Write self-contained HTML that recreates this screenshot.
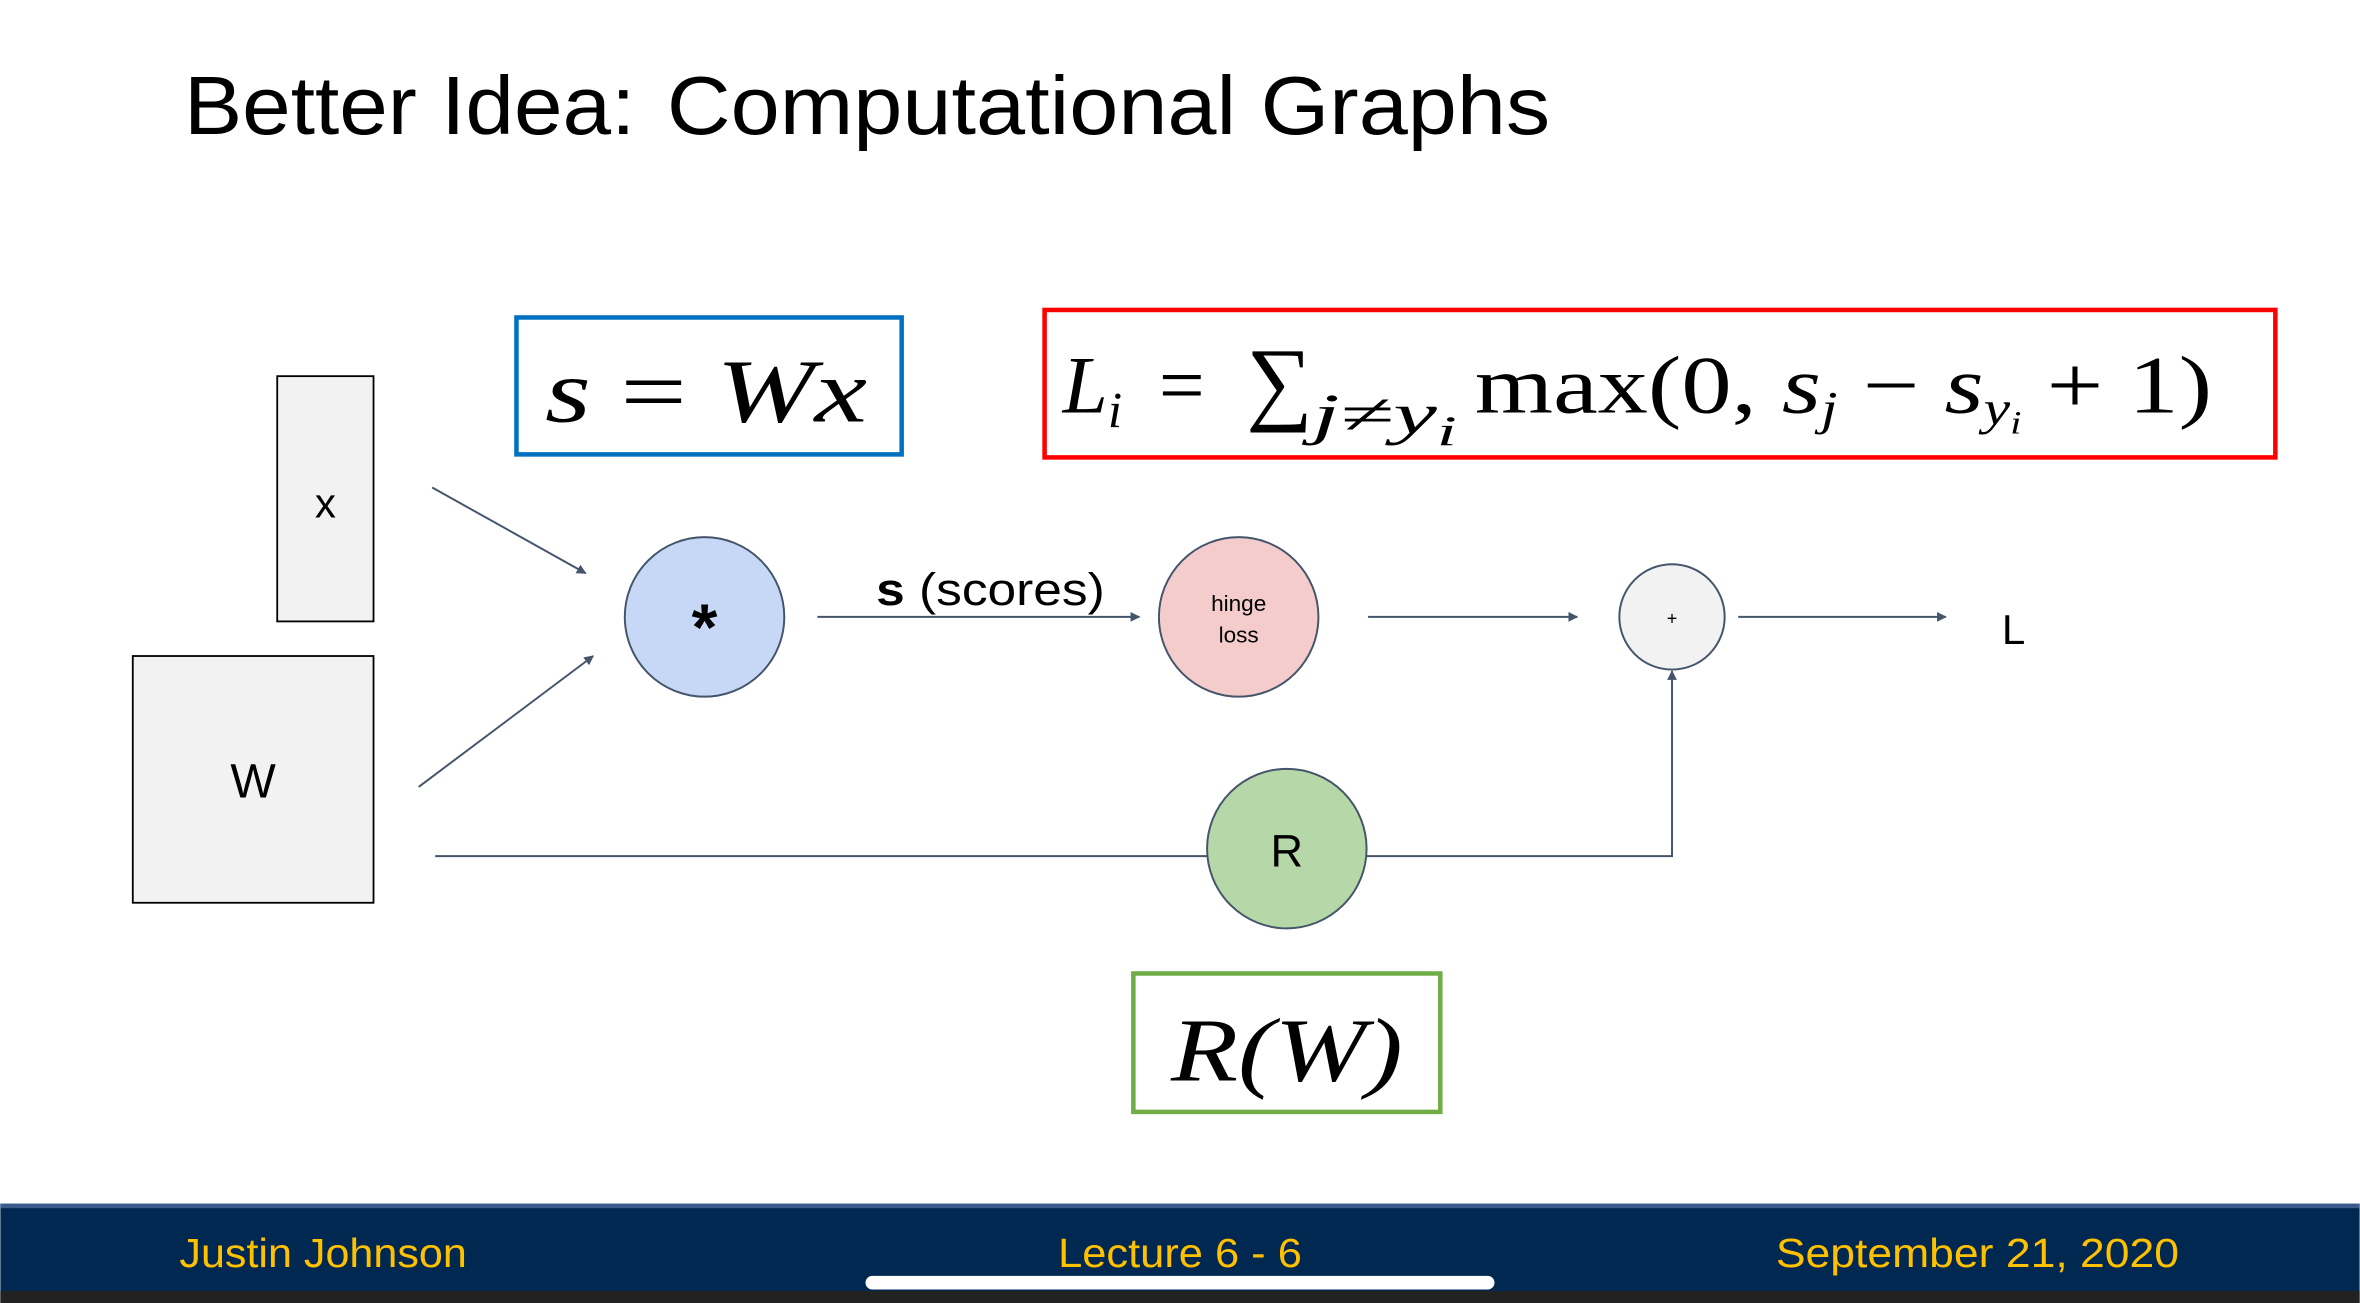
<!DOCTYPE html>
<html><head><meta charset="utf-8"><style>
html,body{margin:0;padding:0;background:#fff;}
svg{display:block;}
</style></head><body>
<svg width="2360" height="1303" viewBox="0 0 1568 866" xmlns="http://www.w3.org/2000/svg">
<defs>
<marker id="a" viewBox="0 0 10 10" refX="9" refY="5" markerWidth="5" markerHeight="5" orient="auto"><path d="M0,0L10,5L0,10z" fill="#44546a"/></marker>
</defs>
<rect width="1568" height="866" fill="#fff"/>
<g font-family="Liberation Sans, sans-serif" fill="#000">
<text x="122" y="89" font-size="55" textLength="300" lengthAdjust="spacingAndGlyphs">Better Idea:</text>
<text x="443" y="89" font-size="55" textLength="587" lengthAdjust="spacingAndGlyphs">Computational Graphs</text>
</g>
<rect x="343" y="211" width="256" height="91" fill="none" stroke="#0070c0" stroke-width="3"/>
<text x="362" y="280" font-family="Liberation Serif, serif" font-style="italic" font-size="60" textLength="214" lengthAdjust="spacingAndGlyphs">s <tspan font-style="normal">=</tspan> Wx</text>
<rect x="694" y="206" width="818" height="98" fill="none" stroke="#ff0000" stroke-width="3"/>
<g font-family="Liberation Serif, serif" font-size="54">
<text x="706" y="274" font-style="italic">L<tspan font-size="34" dy="10">i</tspan></text>
<text x="770" y="274">=</text>
<text x="828" y="274" font-size="62">∑</text>
<text x="872" y="288" font-style="italic" font-size="38" textLength="96" lengthAdjust="spacingAndGlyphs">j≠y<tspan font-size="28" dy="8">i</tspan></text>
<text x="980" y="274" textLength="490" lengthAdjust="spacingAndGlyphs">max(0, <tspan font-style="italic">s</tspan><tspan font-style="italic" font-size="32" dy="8">j</tspan><tspan dy="-8"> − </tspan><tspan font-style="italic">s</tspan><tspan font-style="italic" font-size="32" dy="8">y</tspan><tspan font-style="italic" font-size="22" dy="6">i</tspan><tspan dy="-14"> + 1)</tspan></text>
</g>
<rect x="184" y="250" width="64" height="163" fill="#f2f2f2" stroke="#000" stroke-width="1.2"/>
<text x="216" y="344" font-family="Liberation Sans, sans-serif" font-size="28" text-anchor="middle">x</text>
<rect x="88" y="436" width="160" height="164" fill="#f2f2f2" stroke="#000" stroke-width="1.2"/>
<text x="168" y="530" font-family="Liberation Sans, sans-serif" font-size="32" text-anchor="middle">W</text>
<g stroke="#44546a" stroke-width="1.3" fill="none">
<line x1="287" y1="324" x2="389" y2="381" marker-end="url(#a)"/>
<line x1="278" y1="523" x2="394" y2="436" marker-end="url(#a)"/>
<line x1="543" y1="410" x2="757" y2="410" marker-end="url(#a)"/>
<line x1="909" y1="410" x2="1048" y2="410" marker-end="url(#a)"/>
<line x1="1155" y1="410" x2="1293" y2="410" marker-end="url(#a)"/>
<line x1="289" y1="569" x2="802" y2="569"/>
<polyline points="908,569 1111,569 1111,446" marker-end="url(#a)"/>
</g>
<circle cx="468" cy="410" r="53" fill="#c6d8f5" stroke="#44546a" stroke-width="1.3"/>
<text x="468" y="432" font-family="Liberation Sans, sans-serif" font-size="44" font-weight="bold" text-anchor="middle">*</text>
<text x="582" y="402" font-family="Liberation Sans, sans-serif" font-size="30" textLength="152" lengthAdjust="spacingAndGlyphs"><tspan font-weight="bold">s</tspan> (scores)</text>
<circle cx="823" cy="410" r="53" fill="#f4cccc" stroke="#44546a" stroke-width="1.3"/>
<text x="823" y="406" font-family="Liberation Sans, sans-serif" font-size="15" text-anchor="middle">hinge</text>
<text x="823" y="427" font-family="Liberation Sans, sans-serif" font-size="15" text-anchor="middle">loss</text>
<circle cx="1111" cy="410" r="35" fill="#f2f2f2" stroke="#44546a" stroke-width="1.3"/>
<text x="1111" y="415" font-family="Liberation Sans, sans-serif" font-size="12" text-anchor="middle">+</text>
<text x="1338" y="428" font-family="Liberation Sans, sans-serif" font-size="28" text-anchor="middle">L</text>
<circle cx="855" cy="564" r="53" fill="#b6d7a8" stroke="#44546a" stroke-width="1.3"/>
<text x="855" y="576" font-family="Liberation Sans, sans-serif" font-size="30" text-anchor="middle">R</text>
<rect x="753" y="647" width="204" height="92" fill="none" stroke="#70ad47" stroke-width="3"/>
<text x="855" y="718" font-family="Liberation Serif, serif" font-style="italic" font-size="60" text-anchor="middle" textLength="154" lengthAdjust="spacingAndGlyphs">R(W)</text>
<rect x="0" y="800" width="1568" height="66" fill="#002850"/>
<rect x="0" y="800" width="1568" height="3" fill="#3a5a8c"/>
<rect x="0" y="858" width="1568" height="8" fill="#222"/>
<g font-family="Liberation Sans, sans-serif" font-size="27" fill="#ffc000">
<text x="119" y="842" textLength="191" lengthAdjust="spacingAndGlyphs">Justin Johnson</text>
<text x="703" y="842" textLength="162" lengthAdjust="spacingAndGlyphs">Lecture 6 - 6</text>
<text x="1180" y="842" textLength="268" lengthAdjust="spacingAndGlyphs">September 21, 2020</text>
</g>
<rect x="575" y="848" width="418" height="9" rx="4.5" fill="#fff"/>
</svg>
</body></html>
